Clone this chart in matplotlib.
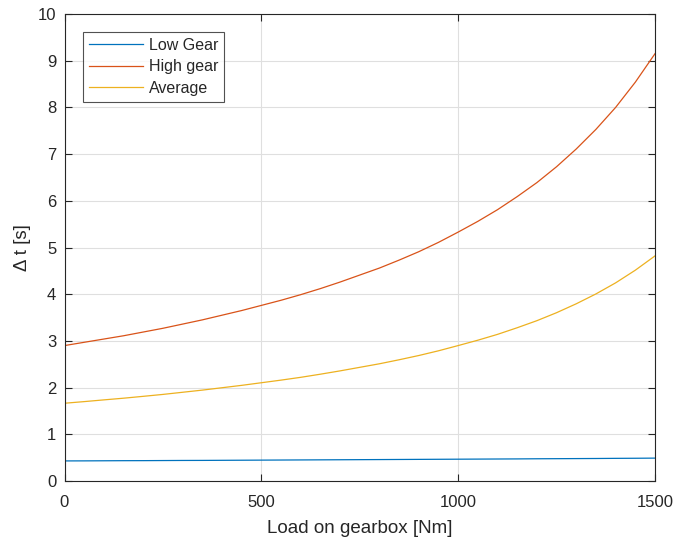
import matplotlib
matplotlib.use("Agg")
import matplotlib.pyplot as plt

load = [0, 50, 100, 150, 200, 250, 300, 350, 400, 450, 500, 550, 600, 650, 700, 750,
        800, 850, 900, 950, 1000, 1050, 1100, 1150, 1200, 1250, 1300, 1350, 1400, 1450, 1500]
low_gear = [0.430, 0.431, 0.433, 0.435, 0.436, 0.438, 0.440, 0.441, 0.443, 0.445, 0.447,
            0.449, 0.451, 0.453, 0.455, 0.457, 0.459, 0.461, 0.463, 0.465, 0.467, 0.469,
            0.471, 0.473, 0.476, 0.478, 0.480, 0.482, 0.485, 0.487, 0.490]
high_gear = [2.90, 2.97, 3.04, 3.11, 3.19, 3.27, 3.36, 3.45, 3.55, 3.65, 3.76, 3.87, 3.99,
             4.12, 4.26, 4.41, 4.56, 4.73, 4.91, 5.11, 5.33, 5.56, 5.81, 6.09, 6.39,
             6.73, 7.11, 7.53, 8.00, 8.54, 9.15]
average = [1.665, 1.700, 1.737, 1.773, 1.813, 1.854, 1.900, 1.946, 1.997, 2.048, 2.104,
           2.160, 2.220, 2.287, 2.358, 2.434, 2.510, 2.596, 2.687, 2.788, 2.900, 3.015,
           3.140, 3.282, 3.433, 3.604, 3.795, 4.006, 4.243, 4.514, 4.820]

series_names = ["Low Gear", "High gear", "Average"]
colors = ["#0072BD", "#D95319", "#EDB120"]
xticks = [0, 500, 1000, 1500]
yticks = list(range(0, 11))

plt.rcParams['font.family'] = ['Liberation Sans', 'DejaVu Sans']
txt = "#262626"

fig = plt.figure(figsize=(6.75, 5.4), dpi=100)
ax = fig.add_axes([64.5/675, 59/540, (655-64.5)/675, (481-14)/540])

for y, name, c in zip([low_gear, high_gear, average], series_names, colors):
    ax.plot(load, y, color=c, lw=0.9, label=name)

ax.set_xlim(0, 1500)
ax.set_ylim(0, 10)
ax.set_xticks(xticks)
ax.set_yticks(yticks)
ax.grid(True, color="#dfdfdf", lw=0.8)
ax.set_axisbelow(True)
ax.tick_params(direction="in", length=5, width=0.8, colors=txt, labelsize=12,
               top=True, right=True, labelcolor=txt)
ax.tick_params(axis="x", pad=10)
ax.tick_params(axis="y", pad=6)
for s in ax.spines.values():
    s.set_color(txt)
    s.set_linewidth(0.8)

ax.set_xlabel("Load on gearbox [Nm]", fontsize=13.5, color=txt, labelpad=7)
ax.set_ylabel("Δ t [s]", fontsize=13.5, color=txt, labelpad=5)

leg = ax.legend(loc="upper left", bbox_to_anchor=(18.5/590.5, 1 - 18/467), fontsize=11.5,
                frameon=True, fancybox=False, borderpad=0.35, handlelength=3.4,
                handletextpad=0.4, labelspacing=0.42, borderaxespad=0)
leg.get_frame().set_edgecolor(txt)
leg.get_frame().set_linewidth(0.8)
for t in leg.get_texts():
    t.set_color(txt)

fig.savefig("out.png", dpi=100)
